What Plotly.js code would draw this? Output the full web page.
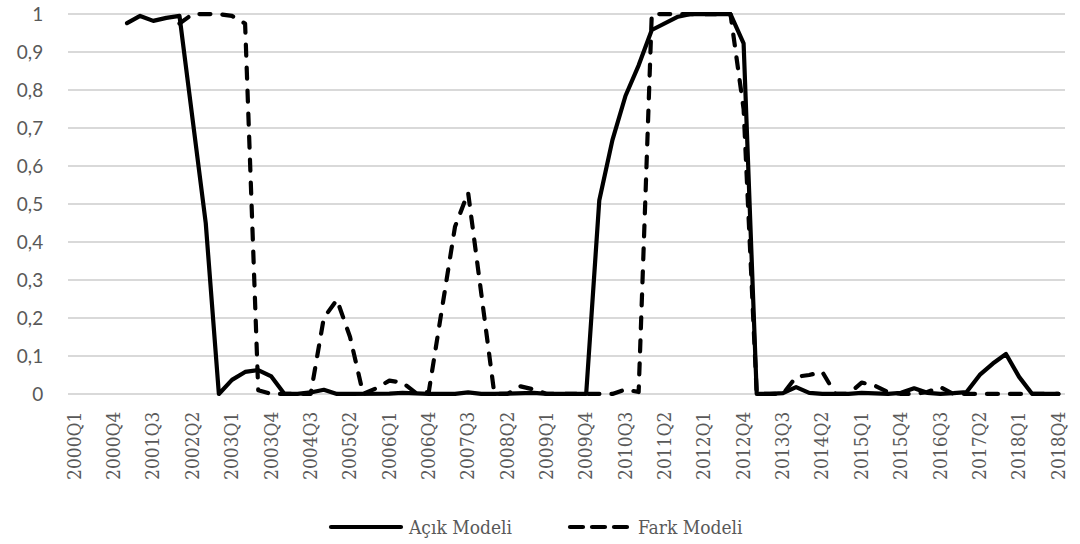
<!DOCTYPE html>
<html>
<head>
<meta charset="utf-8">
<script src="https://cdn.plot.ly/plotly-3.0.1.min.js"></script>
<style>
  html, body { margin: 0; padding: 0; background: #ffffff; }
  #chart { width: 1080px; height: 544px; }
  .scatterlayer path.js-line { stroke-linecap: round; stroke-linejoin: round; }
  .shapelayer path { stroke-linecap: round; }
</style>
</head>
<body>
<div id="chart"></div>
<script>
// ---- data ----
var quarters = [
  "2000Q1","2000Q2","2000Q3","2000Q4","2001Q1","2001Q2","2001Q3","2001Q4",
  "2002Q1","2002Q2","2002Q3","2002Q4","2003Q1","2003Q2","2003Q3","2003Q4",
  "2004Q1","2004Q2","2004Q3","2004Q4","2005Q1","2005Q2","2005Q3","2005Q4",
  "2006Q1","2006Q2","2006Q3","2006Q4","2007Q1","2007Q2","2007Q3","2007Q4",
  "2008Q1","2008Q2","2008Q3","2008Q4","2009Q1","2009Q2","2009Q3","2009Q4",
  "2010Q1","2010Q2","2010Q3","2010Q4","2011Q1","2011Q2","2011Q3","2011Q4",
  "2012Q1","2012Q2","2012Q3","2012Q4","2013Q1","2013Q2","2013Q3","2013Q4",
  "2014Q1","2014Q2","2014Q3","2014Q4","2015Q1","2015Q2","2015Q3","2015Q4",
  "2016Q1","2016Q2","2016Q3","2016Q4","2017Q1","2017Q2","2017Q3","2017Q4",
  "2018Q1","2018Q2","2018Q3","2018Q4"
];

var acikModeli = [
  null, null, null, null, 0.976, 0.995, 0.982, 0.990,
  0.995, 0.730, 0.450, 0.000, 0.037, 0.058, 0.063, 0.046,
  0.000, 0.000, 0.004, 0.011, 0.000, 0.000, 0.000, 0.001,
  0.001, 0.003, 0.001, 0.000, 0.000, 0.000, 0.004, 0.000,
  0.000, 0.001, 0.002, 0.003, 0.000, 0.000, 0.000, 0.000,
  0.510, 0.668, 0.785, 0.865, 0.958, 0.975, 0.993, 1.000,
  1.000, 1.000, 1.000, 0.923, 0.000, 0.000, 0.002, 0.018,
  0.003, 0.000, 0.000, 0.000, 0.003, 0.002, 0.000, 0.003,
  0.015, 0.003, 0.000, 0.002, 0.005, 0.050, 0.080, 0.105,
  0.045, 0.000, 0.000, 0.000
];

var farkModeli = [
  null, null, null, null, null, null, null, null,
  0.975, 1.000, 1.000, 1.000, 0.995, 0.975, 0.010, 0.000,
  0.000, 0.000, 0.000, 0.200, 0.248, 0.150, 0.000, 0.015,
  0.035, 0.030, 0.003, 0.005, 0.230, 0.440, 0.530, 0.270,
  0.000, 0.000, 0.020, 0.012, 0.000, 0.000, 0.000, 0.000,
  0.000, 0.000, 0.012, 0.005, 1.000, 1.000, 1.000, 1.000,
  1.000, 1.000, 1.000, 0.750, 0.000, 0.000, 0.000, 0.045,
  0.050, 0.058, 0.000, 0.000, 0.030, 0.022, 0.005, 0.000,
  0.000, 0.005, 0.018, 0.000, 0.000, 0.000, 0.000, 0.000,
  0.000, 0.000, 0.000, 0.000
];

var xTickLabels = [
  "2000Q1","2000Q4","2001Q3","2002Q2","2003Q1","2003Q4","2004Q3","2005Q2",
  "2006Q1","2006Q4","2007Q3","2008Q2","2009Q1","2009Q4","2010Q3","2011Q2",
  "2012Q1","2012Q4","2013Q3","2014Q2","2015Q1","2015Q4","2016Q3","2017Q2",
  "2018Q1","2018Q4"
];
var yTickVals = [0, 0.1, 0.2, 0.3, 0.4, 0.5, 0.6, 0.7, 0.8, 0.9, 1];
var yTickLabels = ["0","0,1","0,2","0,3","0,4","0,5","0,6","0,7","0,8","0,9","1"];
var seriesNames = ["Açık Modeli", "Fark Modeli"];

// ---- layout geometry (pixels) ----
var W = 1080, H = 544;
var plotL = 68, plotR = 1065;
var yTopPx = 14, yZeroPx = 394;
var pad = 0.008;
var pxPerUnit = (yZeroPx - yTopPx);
var marginT = yTopPx - pad * pxPerUnit;
var marginB = H - yZeroPx - pad * pxPerUnit;

function px2paperX(p) { return (p - plotL) / (plotR - plotL); }
function px2paperY(p) { return (yZeroPx - p) / pxPerUnit; }

var greyText = "#595959";
var sans = "Lato";
var serifCond = "DejaVu Serif Condensed";

var traces = [
  {
    x: quarters, y: acikModeli, name: seriesNames[0], type: "scatter", mode: "lines",
    line: { color: "#000000", width: 4.2 }, connectgaps: false, hoverinfo: "skip"
  },
  {
    x: quarters, y: farkModeli, name: seriesNames[1], type: "scatter", mode: "lines",
    line: { color: "#000000", width: 4.2, dash: "11px,12px" }, connectgaps: false, hoverinfo: "skip"
  }
];

// manual legend
var legY = px2paperY(522);
function seg(a, b) {
  return { type: "line", xref: "paper", yref: "paper",
    x0: px2paperX(a), x1: px2paperX(b), y0: legY, y1: legY,
    line: { color: "#000000", width: 4.2 } };
}
var shapes = [ seg(331, 401), seg(570, 583), seg(592, 605), seg(614, 627) ];
var annotations = [
  { xref: "paper", yref: "paper", x: px2paperX(406), y: legY, xanchor: "left", yanchor: "middle",
    text: seriesNames[0], showarrow: false, font: { family: serifCond, size: 19, color: greyText } },
  { xref: "paper", yref: "paper", x: px2paperX(636), y: legY, xanchor: "left", yanchor: "middle",
    text: seriesNames[1], showarrow: false, font: { family: serifCond, size: 19, color: greyText } }
];

var layout = {
  width: W, height: H,
  margin: { l: plotL, r: W - plotR, t: marginT, b: marginB, pad: 0 },
  paper_bgcolor: "#ffffff", plot_bgcolor: "#ffffff",
  showlegend: false,
  xaxis: {
    type: "category", range: [-0.5, quarters.length - 0.5],
    tickmode: "array", tickvals: xTickLabels, ticktext: xTickLabels,
    tickangle: -90, tickfont: { family: serifCond, size: 19, color: greyText },
    ticks: "outside", ticklen: 6, tickcolor: "rgba(0,0,0,0)",
    showgrid: false, zeroline: false, showline: false, fixedrange: true
  },
  yaxis: {
    range: [-pad, 1 + pad],
    tickmode: "array", tickvals: yTickVals, ticktext: yTickLabels,
    tickfont: { family: sans, size: 19, color: greyText },
    ticks: "outside", ticklen: 20, tickcolor: "rgba(0,0,0,0)",
    showgrid: true, gridcolor: "#d9d9d9", gridwidth: 1.4,
    zeroline: false, showline: false, fixedrange: true
  },
  shapes: shapes,
  annotations: annotations
};

Plotly.newPlot("chart", traces, layout, { staticPlot: true, displayModeBar: false });
</script>
</body>
</html>
